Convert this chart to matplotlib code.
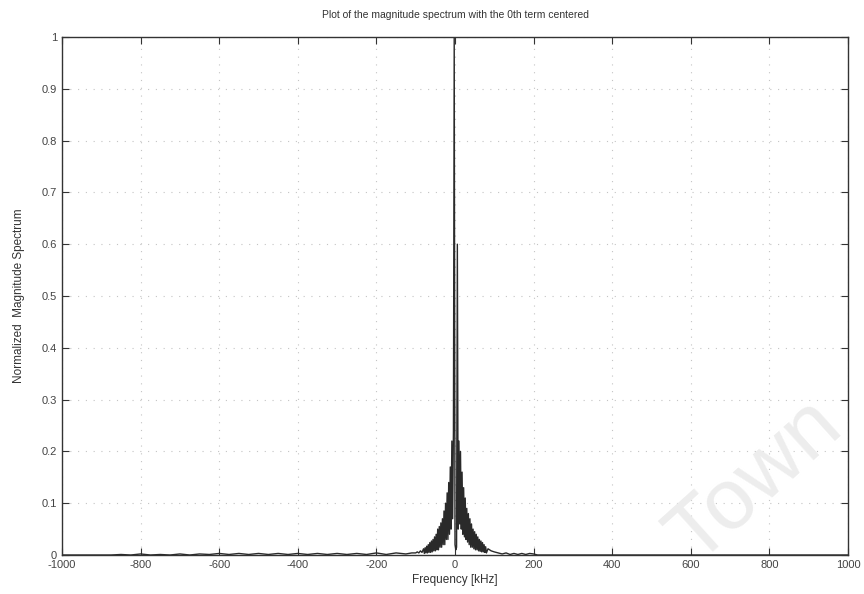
import matplotlib
matplotlib.use("Agg")
import matplotlib.pyplot as plt

# ---- data (kHz, normalized magnitude) ----
tail_left_freq = [-1000, -975, -950, -925, -900, -875, -850, -825, -800, -775, -750, -725, -700,
                  -675, -650, -625, -600, -575, -550, -525, -500, -475, -450, -425, -400, -375,
                  -350, -325, -300, -275, -250, -225, -200, -175, -150, -125, -110]
tail_left_mag = [0.0, 0.0, 0.0, 0.0, 0.0, 0.0, 0.001, 0.0, 0.002, 0.0, 0.001, 0.0, 0.002,
                 0.0, 0.002, 0.001, 0.003, 0.001, 0.003, 0.001, 0.003, 0.001, 0.003, 0.001, 0.003, 0.001,
                 0.003, 0.001, 0.003, 0.001, 0.003, 0.001, 0.004, 0.001, 0.004, 0.002, 0.004]

core_freq = [-100, -96, -92, -88, -84, -80, -78, -76, -74, -72, -70, -68, -66, -64, -62, -60,
             -58, -56, -54, -52, -50, -48, -46, -44, -42, -40, -38, -36, -34, -32, -30, -28,
             -26, -24, -22, -20, -18, -16, -14, -12, -10, -8, -6, -4, -2, 0, 2, 4, 6, 8,
             10, 12, 14, 16, 18, 20, 22, 24, 26, 28, 30, 32, 34, 36, 38, 40, 42, 44, 46, 48,
             50, 52, 54, 56, 58, 60, 62, 64, 66, 68, 70, 72, 74, 76, 78, 80, 84, 88, 92, 96, 100]
core_mag = [0.004, 0.006, 0.004, 0.008, 0.005, 0.012, 0.003, 0.014, 0.004, 0.017, 0.004, 0.020, 0.005, 0.024, 0.005, 0.027,
            0.006, 0.030, 0.008, 0.035, 0.008, 0.040, 0.010, 0.050, 0.010, 0.055, 0.015, 0.062, 0.015, 0.070, 0.020, 0.085,
            0.020, 0.100, 0.030, 0.120, 0.030, 0.140, 0.040, 0.170, 0.050, 0.220, 0.070, 0.240, 1.000, 0.020, 0.010, 0.015, 0.600, 0.050,
            0.220, 0.060, 0.200, 0.050, 0.160, 0.040, 0.130, 0.035, 0.110, 0.030, 0.090, 0.025, 0.080, 0.020, 0.070, 0.015, 0.060, 0.015, 0.050, 0.012,
            0.045, 0.010, 0.040, 0.010, 0.035, 0.008, 0.030, 0.007, 0.027, 0.006, 0.024, 0.006, 0.020, 0.005, 0.016, 0.004, 0.012, 0.010, 0.008, 0.007, 0.006]

tail_right_freq = [110, 120, 130, 140, 150, 160, 170, 180, 190, 200, 210, 225, 250, 300, 400,
                   500, 600, 700, 800, 900, 1000]
tail_right_mag = [0.004, 0.002, 0.004, 0.001, 0.003, 0.001, 0.003, 0.001, 0.003, 0.002, 0.0, 0.0, 0.0,
                  0.0, 0.0, 0.0, 0.0, 0.0, 0.0, 0.0, 0.0]

freq = tail_left_freq + core_freq + tail_right_freq
mag = tail_left_mag + core_mag + tail_right_mag

x_ticks = [-1000, -800, -600, -400, -200, 0, 200, 400, 600, 800, 1000]
y_ticks = [0, 0.1, 0.2, 0.3, 0.4, 0.5, 0.6, 0.7, 0.8, 0.9, 1.0]
y_tick_labels = ["0", "0.1", "0.2", "0.3", "0.4", "0.5", "0.6", "0.7", "0.8", "0.9", "1"]

plt.rcParams['font.family'] = ['Liberation Sans', 'DejaVu Sans']

fig = plt.figure(figsize=(8.64, 5.94), dpi=100)

fig.text(0.875, 0.19, "Town", fontsize=62, color="#ededed", rotation=42,
         ha="center", va="center", zorder=0)

ax = fig.add_axes([62 / 864, 1 - 555 / 594, (848 - 62) / 864, (555 - 37) / 594])
ax.patch.set_alpha(0)

ax.plot(freq, mag, color="#2a2a2a", linewidth=1.0)

ax.set_xlim(-1000, 1000)
ax.set_ylim(0, 1)
ax.set_xticks(x_ticks)
ax.set_xticklabels([str(t) for t in x_ticks])
ax.set_yticks(y_ticks)
ax.set_yticklabels(y_tick_labels)
ax.tick_params(direction="in", top=True, right=True, labelsize=8, length=5,
               colors="#333333", labelcolor="#444444")
ax.grid(True, linestyle=(0, (1, 6)), color="#c4c4c4", linewidth=0.8)
for s in ax.spines.values():
    s.set_color("#333333")
    s.set_linewidth(1.0)

ax.set_title("Plot of the magnitude spectrum with the 0th term centered", fontsize=7.5,
             color="#333333", pad=14)
ax.set_xlabel("Frequency [kHz]", fontsize=8.5, color="#333333", labelpad=3)
ax.set_ylabel("Normalized  Magnitude Spectrum", fontsize=8.5, color="#333333", labelpad=12)

fig.savefig("out.png", dpi=100)
